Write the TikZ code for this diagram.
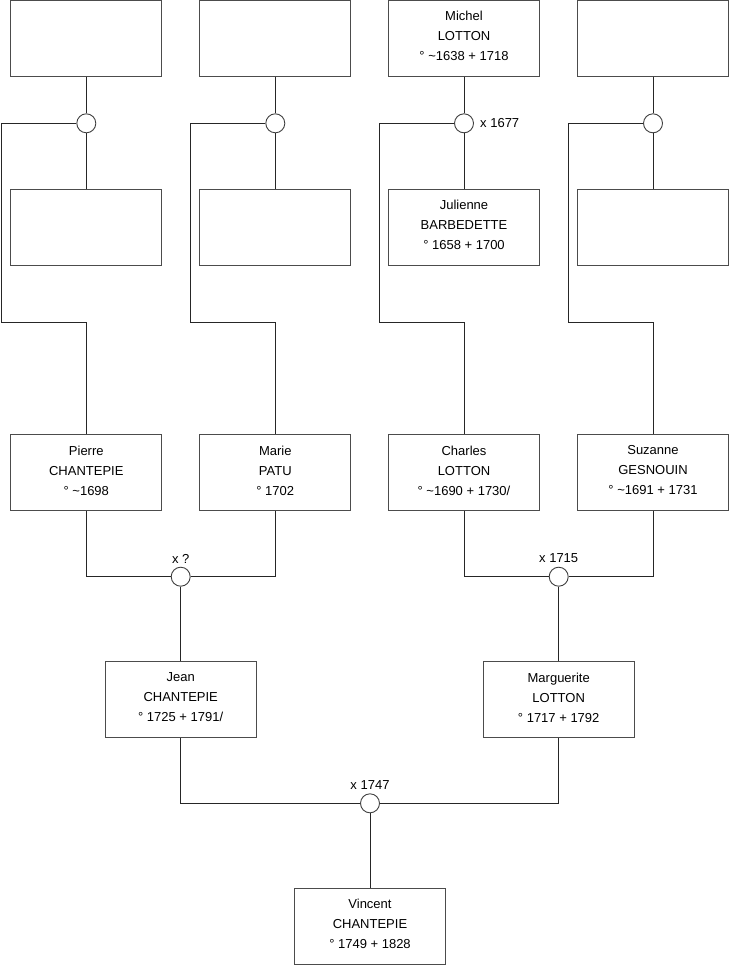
\documentclass[tikz,border=0pt]{standalone}
\usepackage{fontspec}
\setmainfont{Liberation Sans}
\begin{document}
\begin{tikzpicture}[x=1pt,y=-1pt,
  person/.style={draw=black!70, line width=1pt, fill=white, minimum width=151pt, minimum height=76pt, inner sep=0pt},
  txt/.style={align=center, inner sep=0pt, yshift=2pt, font=\fontsize{13}{20}\selectfont},
  union/.style={circle, draw=black!75, line width=0.9pt, fill=white, minimum size=19pt, inner sep=0pt},
  link/.style={draw=black!85, line width=1pt},
  lbl/.style={font=\fontsize{13}{15}\selectfont, inner sep=0pt}]
\useasboundingbox (0,0) rectangle (740,975);
\fill[white] (0,0) rectangle (740,975);
% row 1
\node[person] (f1) at (86.3,38) {};
\node[person] (f2) at (275.3,38) {};
\node[person, label={[txt]center:Michel\\LOTTON\\° \textasciitilde 1638 + 1718}] (f3) at (464,38) {};
\node[person] (f4) at (653,38) {};
% row 2
\node[person] (m1) at (86.3,227.3) {};
\node[person] (m2) at (275.3,227.3) {};
\node[person, label={[txt]center:Julienne\\BARBEDETTE\\° 1658 + 1700}] (m3) at (464,227.3) {};
\node[person] (m4) at (653,227.3) {};
% unions row 1
\node[union] (u1) at (86.3,123.3) {};
\node[union] (u2) at (275.3,123.3) {};
\node[union] (u3) at (464,123.3) {};
\node[union] (u4) at (653,123.3) {};
% row 3
\node[person, label={[txt]center:Pierre\\CHANTEPIE\\° \textasciitilde 1698}] (p1) at (86.3,472.5) {};
\node[person, label={[txt]center:Marie\\PATU\\° 1702}] (p2) at (275.3,472.5) {};
\node[person, label={[txt]center:Charles\\LOTTON\\° \textasciitilde 1690 + 1730/}] (p3) at (464,472.5) {};
\node[person, label={[txt]center:Suzanne\\GESNOUIN\\° \textasciitilde 1691 + 1731}] (p4) at (653,472.5) {};
% unions row 2
\node[union] (v1) at (180.7,576.7) {};
\node[union] (v2) at (558.7,576.7) {};
% row 4
\node[person, label={[txt]center:Jean\\CHANTEPIE\\° 1725 + 1791/}] (g1) at (180.7,699.5) {};
\node[person, label={[txt]center:Marguerite\\LOTTON\\° 1717 + 1792}] (g2) at (558.7,699.5) {};
% union row 3
\node[union] (w) at (370,803.3) {};
% row 5
\node[person, label={[txt]center:Vincent\\CHANTEPIE\\° 1749 + 1828}] (vc) at (370,926) {};
% bend coordinates
\coordinate (k1) at (1.7,322);
\coordinate (k2) at (190.3,322);
\coordinate (k3) at (379.3,322);
\coordinate (k4) at (568.7,322);
% connectors
\foreach \i in {1,2,3,4}{
  \draw[link] (f\i.south) -- (u\i.north);
  \draw[link] (u\i.south) -- (m\i.north);
  \draw[link] (u\i.west) -| (k\i) -| (p\i.north);
}
\draw[link] (p1.south) |- (v1.west);
\draw[link] (p2.south) |- (v1.east);
\draw[link] (v1.south) -- (g1.north);
\draw[link] (p3.south) |- (v2.west);
\draw[link] (p4.south) |- (v2.east);
\draw[link] (v2.south) -- (g2.north);
\draw[link] (g1.south) |- (w.west);
\draw[link] (g2.south) |- (w.east);
\draw[link] (w.south) -- (vc.north);
% labels
\node[lbl, anchor=west] (l1) at (480,123.3) {x 1677};
\node[lbl] (l2) at (180.7,558.5) {x ?};
\node[lbl] (l3) at (558.7,558.5) {x 1715};
\node[lbl] (l4) at (370,785) {x 1747};
\end{tikzpicture}
\end{document}
